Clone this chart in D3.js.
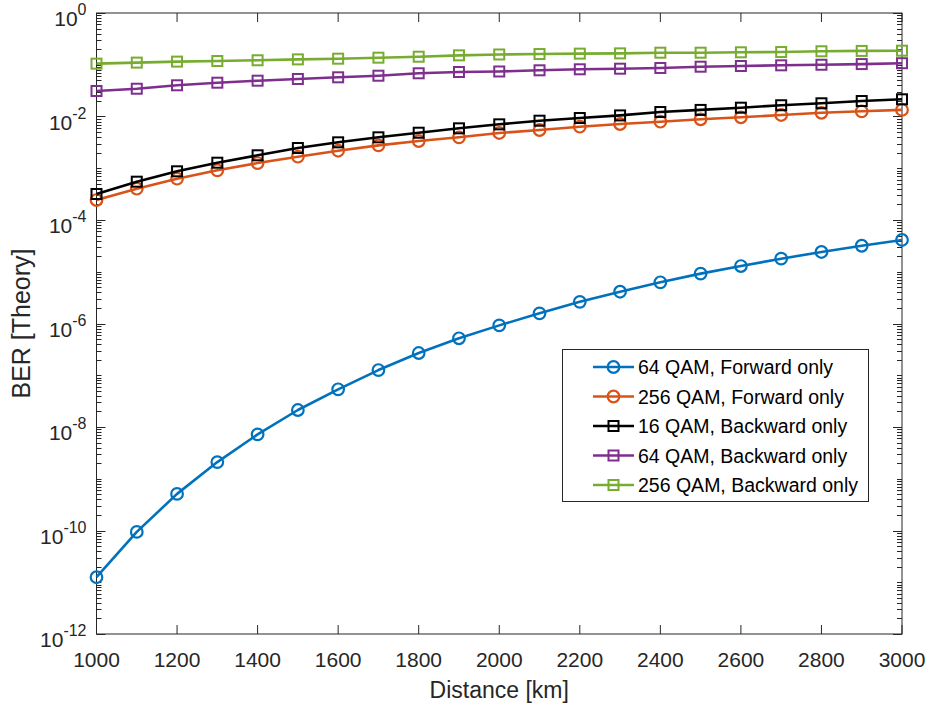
<!DOCTYPE html>
<html>
<head>
<meta charset="utf-8">
<script src="https://cdn.jsdelivr.net/npm/d3@7"></script>
<style>
  html, body { margin: 0; padding: 0; background: #fff; }
  svg { display: block; font-family: "Liberation Sans", Arial, Helvetica, sans-serif; }
</style>
</head>
<body>
<svg id="chart" width="930" height="713"></svg>
<script>
// Transmission distance in km
const distance = [1000, 1100, 1200, 1300, 1400, 1500, 1600, 1700, 1800, 1900, 2000,
                  2100, 2200, 2300, 2400, 2500, 2600, 2700, 2800, 2900, 3000];

// Theoretical BER per modulation / scheme
const ber64Fwd = [1.25e-11, 9.4e-11, 5.1e-10, 2.1e-9, 7.2e-9, 2.13e-8, 5.35e-8, 1.26e-7, 2.69e-7, 5.18e-7, 9.2e-7,
                  1.57e-6, 2.62e-6, 4.11e-6, 6.25e-6, 9.2e-6, 1.29e-5, 1.79e-5, 2.41e-5, 3.18e-5, 4.11e-5];
const ber256Fwd = [2.43e-4, 4.03e-4, 6.28e-4, 9.12e-4, 1.26e-3, 1.67e-3, 2.18e-3, 2.77e-3, 3.36e-3, 3.96e-3, 4.8e-3,
                   5.48e-3, 6.35e-3, 7.16e-3, 7.94e-3, 8.83e-3, 9.65e-3, 1.07e-2, 1.18e-2, 1.26e-2, 1.34e-2];
const ber16Bwd = [3.18e-4, 5.5e-4, 8.73e-4, 1.28e-3, 1.78e-3, 2.46e-3, 3.17e-3, 3.96e-3, 4.86e-3, 5.91e-3, 7.06e-3,
                  8.3e-3, 9.35e-3, 1.05e-2, 1.22e-2, 1.34e-2, 1.48e-2, 1.65e-2, 1.8e-2, 1.99e-2, 2.15e-2];
const ber64Bwd = [3.11e-2, 3.44e-2, 4.01e-2, 4.5e-2, 4.92e-2, 5.31e-2, 5.72e-2, 6.14e-2, 6.84e-2, 7.24e-2, 7.41e-2,
                  7.81e-2, 8.17e-2, 8.39e-2, 8.66e-2, 9.17e-2, 9.46e-2, 9.75e-2, 0.1, 0.103, 0.107];
const ber256Bwd = [0.105, 0.11, 0.115, 0.118, 0.122, 0.127, 0.131, 0.137, 0.143, 0.152, 0.158,
                   0.161, 0.164, 0.166, 0.171, 0.171, 0.174, 0.176, 0.182, 0.185, 0.187];

const seriesNames = ["64 QAM, Forward only", "256 QAM, Forward only", "16 QAM, Backward only",
                     "64 QAM, Backward only", "256 QAM, Backward only"];
const seriesValues = [ber64Fwd, ber256Fwd, ber16Bwd, ber64Bwd, ber256Bwd];
const seriesColors = ["#0072BD", "#D95319", "#000000", "#7E2F8E", "#77AC30"];
const seriesMarkers = ["circle", "circle", "square", "square", "square"];

const xTicks = [1000, 1200, 1400, 1600, 1800, 2000, 2200, 2400, 2600, 2800, 3000];
const yTickExponents = [0, -2, -4, -6, -8, -10, -12];

const plot = { left: 96.5, right: 902, top: 13, bottom: 634 };
const axisColor = "#262626";

const svg = d3.select("#chart");
const x = d3.scaleLinear().domain([1000, 3000]).range([plot.left, plot.right]);
const y = d3.scaleLog().domain([1e-12, 1]).range([plot.bottom, plot.top]);

// Log ticks: every decade, plus 2..9 within each decade
const majorLen = 9, minorLen = 5;
const minorVals = [];
for (let e = -12; e < 0; e++) {
  for (let m = 1; m <= 9; m++) {
    const v = m * Math.pow(10, e);
    if (m === 1 && e % 2 === 0) continue;
    minorVals.push(v);
  }
}
const majorVals = yTickExponents.map(e => Math.pow(10, e));

const axes = svg.append("g").attr("stroke", axisColor).attr("stroke-width", 1).attr("fill", "none");
// box
axes.append("rect")
  .attr("x", plot.left).attr("y", plot.top)
  .attr("width", plot.right - plot.left).attr("height", plot.bottom - plot.top);

// y ticks (left & right)
[[plot.left, 1], [plot.right, -1]].forEach(([x0, dir]) => {
  axes.selectAll(null).data(minorVals).enter().append("line")
    .attr("x1", x0).attr("x2", x0 + dir * minorLen)
    .attr("y1", d => Math.round(y(d)) + 0.5).attr("y2", d => Math.round(y(d)) + 0.5);
  axes.selectAll(null).data(majorVals).enter().append("line")
    .attr("x1", x0).attr("x2", x0 + dir * majorLen)
    .attr("y1", d => Math.round(y(d)) + 0.5).attr("y2", d => Math.round(y(d)) + 0.5);
});
// x ticks (bottom & top)
[[plot.bottom, -1], [plot.top, 1]].forEach(([y0, dir]) => {
  axes.selectAll(null).data(xTicks).enter().append("line")
    .attr("x1", d => x(d)).attr("x2", d => x(d))
    .attr("y1", y0).attr("y2", y0 + dir * majorLen);
});

// x tick labels
svg.append("g").selectAll("text").data(xTicks).enter().append("text")
  .attr("x", d => x(d)).attr("y", plot.bottom + 33)
  .attr("text-anchor", "middle").attr("font-size", 21).attr("fill", axisColor)
  .text(d => d);

// y tick labels: 10 with superscript exponent
const yl = svg.append("g").attr("fill", axisColor);
yTickExponents.forEach(e => {
  const yy = y(Math.pow(10, e));
  const t = yl.append("text").attr("x", plot.left - 10).attr("y", yy + 13)
    .attr("text-anchor", "end").attr("font-size", 21);
  t.append("tspan").text("10");
  t.append("tspan").attr("font-size", 16).attr("dy", -11).text(e === 0 ? "0" : "-" + Math.abs(e));
});

// axis titles
svg.append("text")
  .attr("x", (plot.left + plot.right) / 2).attr("y", plot.bottom + 64)
  .attr("text-anchor", "middle").attr("font-size", 23).attr("fill", axisColor)
  .text("Distance [km]");
svg.append("text")
  .attr("transform", `translate(30, ${(plot.top + plot.bottom) / 2}) rotate(-90)`)
  .attr("text-anchor", "middle").attr("font-size", 25).attr("fill", axisColor)
  .text("BER [Theory]");

// marker drawing helper
function drawMarker(g, type, cx, cy, color) {
  if (type === "circle") {
    g.append("circle").attr("cx", cx).attr("cy", cy).attr("r", 5.8)
      .attr("fill", "none").attr("stroke", color).attr("stroke-width", 2.2);
  } else {
    g.append("rect").attr("x", cx - 5).attr("y", cy - 5).attr("width", 10).attr("height", 10)
      .attr("fill", "none").attr("stroke", color).attr("stroke-width", 2);
  }
}

// series
const line = d3.line().x(d => x(d[0])).y(d => y(d[1]));
seriesValues.forEach((vals, i) => {
  const pts = distance.map((d, j) => [d, vals[j]]);
  const g = svg.append("g");
  g.append("path").datum(pts).attr("d", line)
    .attr("fill", "none").attr("stroke", seriesColors[i]).attr("stroke-width", 2.6)
    .attr("stroke-linejoin", "round");
  pts.forEach(p => drawMarker(g, seriesMarkers[i], x(p[0]), y(p[1]), seriesColors[i]));
});

// legend
const lg = svg.append("g");
const legBox = { x: 562, y: 349, w: 306, h: 152 };
lg.append("rect").attr("x", legBox.x + 0.5).attr("y", legBox.y + 0.5)
  .attr("width", legBox.w).attr("height", legBox.h)
  .attr("fill", "#fff").attr("stroke", axisColor).attr("stroke-width", 1);
seriesNames.forEach((name, i) => {
  const cy = 367 + i * 29.5;
  lg.append("line").attr("x1", 593).attr("x2", 634).attr("y1", cy).attr("y2", cy)
    .attr("stroke", seriesColors[i]).attr("stroke-width", 2.6);
  drawMarker(lg, seriesMarkers[i], 613.5, cy, seriesColors[i]);
  lg.append("text").attr("x", 638).attr("y", cy + 7)
    .attr("font-size", 19.5).attr("fill", "#000").text(name);
});
</script>
</body>
</html>
